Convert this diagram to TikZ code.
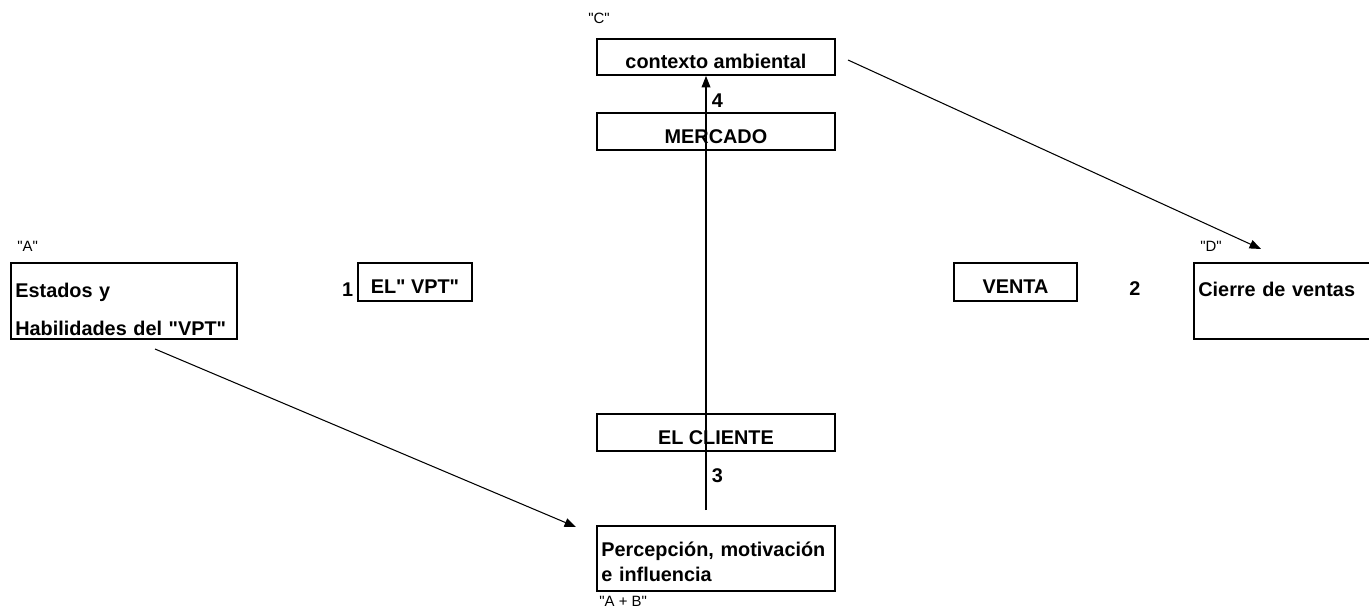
\documentclass[tikz,border=0pt]{standalone}
\usepackage{fontspec}
\setmainfont{Liberation Sans}
\newfontfamily\arialx{Liberation Sans}
\usetikzlibrary{arrows.meta, positioning}

\begin{document}
\begin{tikzpicture}[
    x=0.02cm, y=-0.02cm,
    box/.style={rectangle, draw, line width=1.1pt, minimum height=0.74cm, inner xsep=2.5pt, inner ysep=2pt, font=\arialx\fontsize{11.3}{13.5}\selectfont\bfseries},
    single/.style={box, text height=13.6pt, text depth=0pt},
    wide/.style={single, minimum width=4.76cm},
    tag/.style={inner sep=0pt, anchor=west, font=\arialx\fontsize{8.5}{10}\selectfont},
    num/.style={inner sep=0pt, font=\arialx\fontsize{11.3}{13.5}\selectfont\bfseries},
    arrow/.style={line width=0.6pt, -{Triangle[length=6.5pt, width=5pt]}}
  ]
  \useasboundingbox (0,0) rectangle (1369,612);

  % Columna central
  \node (ctx) [wide, minimum height=0.72cm, anchor=north west] at (596,38) {contexto ambiental};
  \node (mercado) [wide, anchor=north west] at (596,112) {MERCADO};
  \node (cliente) [wide, anchor=north west] at (596,413) {EL CLIENTE};
  \node (percep) [box, minimum height=1.3cm, text width=130.4pt, align=left, anchor=north west, font=\arialx\fontsize{11.3}{14.2}\selectfont\bfseries] at (596,525)
    {\mbox{}\\[-2.2pt]Percepción, motivación\\e influencia};

  % Fila del medio
  \node (estados) [box, minimum height=1.52cm, text width=123.6pt, align=left, anchor=north west] at (10,262)
    {\mbox{}\\[4pt]Estados y\\[8pt]Habilidades del "VPT"};
  \node (vpt) [single, minimum width=2.28cm, minimum height=0.76cm, anchor=north west] at (357,262) {EL" VPT"};
  \node (venta) [single, minimum width=2.46cm, minimum height=0.76cm, anchor=north west] at (953,262) {VENTA};
  \node (cierre) [box, minimum height=1.52cm, text width=97pt, text height=10pt, text depth=14.6pt, align=left, anchor=north west] at (1193,262)
    {Cierre de ventas};

  % Numeros
  \node (uno) [num, left=2pt of vpt, yshift=-4.5pt] {1};
  \node (dos) [num] at (1135,289) {2};

  % Etiquetas
  \node (tagC) [tag] at (588,18) {"C"};
  \node (tagA) [tag] at (17,246) {"A"};
  \node (tagD) [tag] at (1200,246) {"D"};
  \node (tagAB) [tag] at (599,601) {"A + B"};

  % Conexiones
  \coordinate (base) at (706,510);
  \coordinate (desdeA) at (155,349);
  \coordinate (haciaAB) at (576,527);
  \coordinate (desdeC) at (848,60);
  \coordinate (haciaD) at (1261,249);
  \draw [arrow] (base) -- node[num, right=3pt, pos=0.078] {3} node[num, right=3pt, pos=0.943] {4} (base |- ctx.south);
  \draw [arrow] (desdeA) -- (haciaAB);
  \draw [arrow] (desdeC) -- (haciaD);

\end{tikzpicture}
\end{document}
